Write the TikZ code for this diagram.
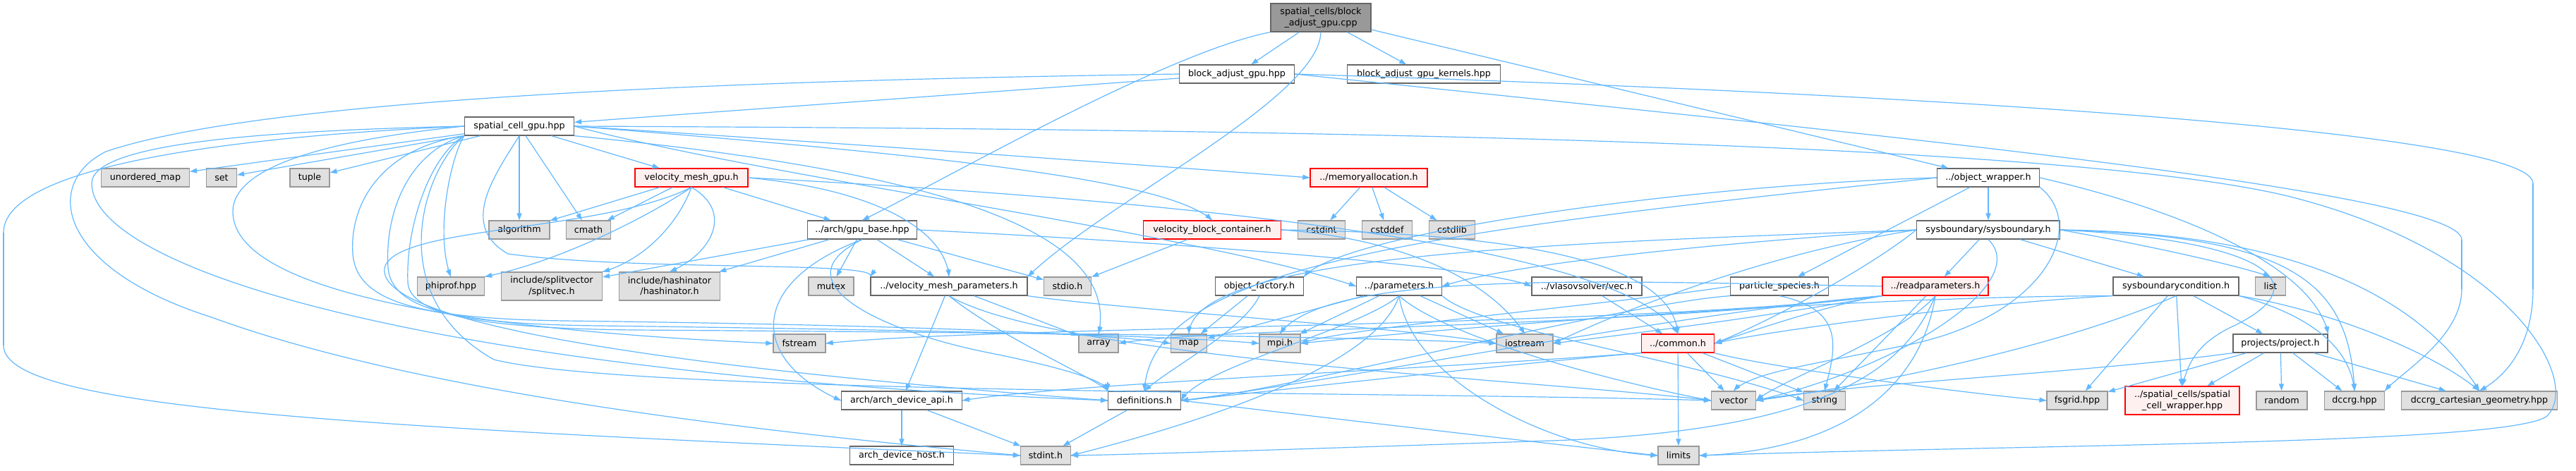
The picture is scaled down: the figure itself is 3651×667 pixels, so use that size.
\documentclass[tikz,border=0pt]{standalone}
\usepackage{fontspec}
\setmainfont{DejaVu Sans}
\usetikzlibrary{arrows.meta}

\definecolor{edgeblue}{HTML}{63B8FF}
\definecolor{sysfill}{HTML}{E0E0E0}
\definecolor{sysdraw}{HTML}{999999}
\definecolor{filedraw}{HTML}{666666}
\definecolor{truncfill}{HTML}{FFF0F0}

\begin{document}
\begin{tikzpicture}[x=1pt, y=-1pt,
  every node/.style={font=\fontsize{12.7}{15.5}\selectfont, inner xsep=4pt, inner ysep=2pt, minimum height=26pt, line width=1.2pt, align=center},
  sysnode/.style={draw=sysdraw, fill=sysfill},
  filenode/.style={draw=filedraw, fill=white},
  trunc/.style={draw=red, fill=truncfill},
  root/.style={draw=filedraw, fill=sysdraw, minimum height=40pt},
  wire/.style={draw=edgeblue, line width=1.2pt},
  incl/.style={wire, -{Triangle[length=10pt,width=7pt]}}]
\useasboundingbox (0,0) rectangle (3651,667);
%files
\node[root, minimum width=142pt] (cpp) at (1872,25) {spatial\_cells/block\\\_adjust\_gpu.cpp};
\node[filenode, minimum width=163pt] (bagh) at (1753,105) {block\_adjust\_gpu.hpp};
\node[filenode, minimum width=217pt] (bagk) at (2018,105) {block\_adjust\_gpu\_kernels.hpp};
\node[filenode, minimum width=155pt] (scg) at (736,179) {spatial\_cell\_gpu.hpp};
\node[sysnode, minimum width=125pt] (umap) at (206,252) {unordered\_map};
\node[sysnode, minimum width=43pt] (sset) at (314,252) {set};
\node[sysnode, minimum width=56pt] (tuple) at (439,252) {tuple};
\node[trunc, minimum width=160pt] (vmg) at (980,252) {velocity\_mesh\_gpu.h};
\node[trunc, minimum width=166pt] (memalloc) at (1940,252) {../memoryallocation.h};
\node[filenode, minimum width=145pt] (objw) at (2818,252) {../object\_wrapper.h};
\node[sysnode, minimum width=86pt] (algorithm) at (736,326) {algorithm};
\node[sysnode, minimum width=63pt] (cmath) at (834,326) {cmath};
\node[filenode, minimum width=155pt] (gpubase) at (1222,326) {../arch/gpu\_base.hpp};
\node[trunc, minimum width=195pt] (vbc) at (1718,326) {velocity\_block\_container.h};
\node[sysnode, minimum width=67pt] (cstdint) at (1873,326) {cstdint};
\node[sysnode, minimum width=71pt] (cstddef) at (1966,326) {cstddef};
\node[sysnode, minimum width=65pt] (cstdlib) at (2058,326) {cstdlib};
\node[filenode, minimum width=203pt] (sysb) at (2818,326) {sysboundary/sysboundary.h};
\node[sysnode, minimum width=95pt] (phiprof) at (639,406) {phiprof.hpp};
\node[sysnode, minimum width=143pt, minimum height=40pt] (splitvec) at (782,406) {include/splitvector\\/splitvec.h};
\node[sysnode, minimum width=143pt, minimum height=40pt] (hashinator) at (949,406) {include/hashinator\\/hashinator.h};
\node[sysnode, minimum width=64pt] (mutex) at (1178,406) {mutex};
\node[filenode, minimum width=222pt] (vmp) at (1345,406) {../velocity\_mesh\_parameters.h};
\node[sysnode, minimum width=67pt] (stdio) at (1513,406) {stdio.h};
\node[filenode, minimum width=125pt] (objf) at (1785,406) {object\_factory.h};
\node[filenode, minimum width=121pt] (params) at (1983,406) {../parameters.h};
\node[filenode, minimum width=156pt] (vec) at (2249,406) {../vlasovsolver/vec.h};
\node[filenode, minimum width=139pt] (pspec) at (2522,406) {particle\_species.h};
\node[trunc, minimum width=150pt] (readp) at (2743,406) {../readparameters.h};
\node[filenode, minimum width=178pt] (sbc) at (3084,406) {sysboundarycondition.h};
\node[sysnode, minimum width=43pt] (slist) at (3218,406) {list};
\node[sysnode, minimum width=74pt] (fstream) at (1133,487) {fstream};
\node[sysnode, minimum width=56pt] (sarray) at (1557,487) {array};
\node[sysnode, minimum width=51pt] (smap) at (1685,487) {map};
\node[sysnode, minimum width=58pt] (mpi) at (1814,487) {mpi.h};
\node[sysnode, minimum width=80pt] (iostream) at (2161,487) {iostream};
\node[trunc, minimum width=103pt] (common) at (2378,487) {../common.h};
\node[filenode, minimum width=134pt] (project) at (3232,487) {projects/project.h};
\node[filenode, minimum width=171pt] (adapi) at (1278,568) {arch/arch\_device\_api.h};
\node[filenode, minimum width=103pt] (defs) at (1622,568) {definitions.h};
\node[sysnode, minimum width=63pt] (svector) at (2457,568) {vector};
\node[sysnode, minimum width=59pt] (sstring) at (2586,568) {string};
\node[sysnode, minimum width=86pt] (fsgrid) at (2944,568) {fsgrid.hpp};
\node[trunc, minimum width=162pt, minimum height=40pt] (scw) at (3093,568) {../spatial\_cells/spatial\\\_cell\_wrapper.hpp};
\node[sysnode, minimum width=72pt] (srandom) at (3234,568) {random};
\node[sysnode, minimum width=85pt] (dccrg) at (3337,568) {dccrg.hpp};
\node[sysnode, minimum width=221pt] (dccrgcg) at (3514,568) {dccrg\_cartesian\_geometry.hpp};
\node[filenode, minimum width=147pt] (adhost) at (1278,646) {arch\_device\_host.h};
\node[sysnode, minimum width=71pt] (stdint) at (1482,646) {stdint.h};
\node[sysnode, minimum width=58pt] (limits) at (2379,646) {limits};
%bends of the long includes
\coordinate (bd1) at (3489,340);
\coordinate (bd2) at (3489,410);
\coordinate (bg1) at (3590,260);
\coordinate (bg2) at (3590,410);
\coordinate (bs1) at (150,215);
\coordinate (bs2) at (300,450);
\coordinate (sv1) at (720,360);
\coordinate (sf1) at (330,300);
\coordinate (sd1) at (130,260);
\coordinate (ss1) at (5,330);
\coordinate (ss2) at (5,490);
\coordinate (sm1) at (500,360);
\coordinate (sm2) at (800,455);
\coordinate (sp1) at (550,380);
\coordinate (sp2) at (850,462);
\coordinate (si1) at (578,400);
\coordinate (si2) at (900,468);
\coordinate (sx1) at (700,510);
\coordinate (sl1) at (3250,280);
\coordinate (sl2) at (3610,590);
\coordinate (vd1) at (545,380);
\coordinate (gd1) at (1400,500);
\coordinate (ov1) at (2700,490);
\coordinate (sw1) at (3160,465);
\coordinate (rs1) at (2200,625);
%straight includes
\draw[incl] (cpp) -- (bagh);
\draw[incl] (cpp) -- (bagk);
\draw[incl] (cpp) -- (objw);
\draw[incl] (bagh) -- (scg);
\draw[incl] (scg) -- (umap);
\draw[incl] (scg) -- (sset);
\draw[incl] (scg) -- (tuple);
\draw[incl] (scg) -- (vmg);
\draw[incl] (scg) -- (algorithm);
\draw[incl] (scg) -- (cmath);
\draw[incl] (vmg) -- (algorithm);
\draw[incl] (vmg) -- (cmath);
\draw[incl] (vmg) -- (gpubase);
\draw[incl] (gpubase) -- (mutex);
\draw[incl] (gpubase) -- (splitvec);
\draw[incl] (gpubase) -- (hashinator);
\draw[incl] (gpubase) -- (vmp);
\draw[incl] (gpubase) -- (stdio);
\draw[incl] (vmp) -- (sarray);
\draw[incl] (vmp) -- (adapi);
\draw[incl] (vbc) -- (stdio);
\draw[incl] (memalloc) -- (cstdint);
\draw[incl] (memalloc) -- (cstddef);
\draw[incl] (memalloc) -- (cstdlib);
\draw[incl] (objw) -- (sysb);
\draw[incl] (objw) -- (pspec);
\draw[incl] (sysb) -- (readp);
\draw[incl] (sysb) -- (sbc);
\draw[incl] (sbc) -- (scw);
\draw[incl] (sbc) -- (fsgrid);
\draw[incl] (sbc) -- (project);
\draw[incl] (project) -- (scw);
\draw[incl] (project) -- (srandom);
\draw[incl] (project) -- (dccrg);
\draw[incl] (project) -- (dccrgcg);
\draw[incl] (project) -- (fsgrid);
\draw[incl] (readp) -- (sstring);
\draw[incl] (params) -- (smap);
\draw[incl] (params) -- (mpi);
\draw[incl] (params) -- (iostream);
\draw[incl] (objf) -- (smap);
\draw[incl] (vec) -- (common);
\draw[incl] (common) -- (limits);
\draw[incl] (common) -- (svector);
\draw[incl] (common) -- (sstring);
\draw[incl] (defs) -- (stdint);
\draw[incl] (adapi) -- (adhost);
\draw[incl] (adapi) -- (stdint);
%curved includes: one piece per draw, the tip on its own
\draw[wire] (cpp.south west) .. controls (1650,75) and (1330,260) .. (gpubase.north);
\draw[incl] ([shift={(10.8,-5.3)}]gpubase.north) -- (gpubase.north);
\draw[wire] (cpp.south) .. controls (1870,140) and (1560,290) .. (vmp.north east);
\draw[incl] ([shift={(8.5,-8.4)}]vmp.north east) -- (vmp.north east);
\draw[wire] (bagh.east) .. controls (2600,185) and (3489,270) .. (bd1);
\draw[wire] (bd1) -- (bd2);
\draw[wire] (bd2) .. controls (3489,480) and (3400,530) .. (dccrg.north east);
\draw[incl] ([shift={(7.6,-9.3)}]dccrg.north east) -- (dccrg.north east);
\draw[wire] (bagh.east) .. controls (2800,135) and (3590,190) .. (bg1);
\draw[wire] (bg1) -- (bg2);
\draw[wire] (bg2) .. controls (3590,480) and (3560,530) .. (dccrgcg.north);
\draw[incl] ([shift={(10.5,-5.7)}]dccrgcg.north) -- (dccrgcg.north);
\draw[wire] (bagh.west) .. controls (1200,112) and (400,130) .. (bs1);
\draw[wire] (bs1) .. controls (60,260) and (80,380) .. (bs2);
\draw[wire] (bs2) .. controls (600,560) and (1100,615) .. (stdint.west);
\draw[incl] ([shift={(-12,-1.1)}]stdint.west) -- (stdint.west);
\draw[wire] (scg.south west) .. controls (640,220) and (615,330) .. (phiprof.north);
\draw[incl] ([shift={(-4.3,-11.2)}]phiprof.north) -- (phiprof.north);
\draw[wire] (scg.east) .. controls (1400,225) and (1660,260) .. (vbc.north);
\draw[incl] ([shift={(-8.8,-8.1)}]vbc.north) -- (vbc.north);
\draw[wire] (scg.east) .. controls (1300,210) and (1700,240) .. (memalloc.west);
\draw[incl] ([shift={(-12,-0.9)}]memalloc.west) -- (memalloc.west);
\draw[wire] (scg.south) .. controls (700,250) and (650,320) .. (sv1);
\draw[wire] (sv1) .. controls (900,385) and (1250,370) .. (vmp.north west);
\draw[incl] ([shift={(6.9,-9.9)}]vmp.north west) -- (vmp.north west);
\draw[wire] (scg.south east) .. controls (1300,240) and (1590,320) .. (sarray.north);
\draw[incl] ([shift={(2.5,-11.7)}]sarray.north) -- (sarray.north);
\draw[wire] (scg.east) .. controls (1100,255) and (1700,330) .. (params.west);
\draw[incl] ([shift={(-11.4,-3.9)}]params.west) -- (params.west);
\draw[wire] (scg.west) .. controls (450,200) and (330,240) .. (sf1);
\draw[wire] (sf1) .. controls (330,420) and (700,470) .. (fstream.west);
\draw[incl] ([shift={(-12,-0.5)}]fstream.west) -- (fstream.west);
\draw[wire] (scg.west) .. controls (400,185) and (130,200) .. (sd1);
\draw[wire] (sd1) .. controls (130,380) and (600,530) .. (defs.west);
\draw[incl] ([shift={(-12,-0.5)}]defs.west) -- (defs.west);
\draw[wire] (scg.west) .. controls (300,195) and (5,240) .. (ss1);
\draw[wire] (ss1) -- (ss2);
\draw[wire] (ss2) .. controls (5,580) and (500,605) .. (stdint.west);
\draw[incl] ([shift={(-12,-0.5)}]stdint.west) -- (stdint.west);
\draw[wire] (scg.south west) .. controls (540,210) and (495,290) .. (sm1);
\draw[wire] (sm1) .. controls (505,430) and (600,452) .. (sm2);
\draw[wire] (sm2) .. controls (1200,460) and (1550,470) .. (smap.west);
\draw[incl] ([shift={(-11.9,-1.8)}]smap.west) -- (smap.west);
\draw[wire] (scg.south west) .. controls (580,215) and (545,300) .. (sp1);
\draw[wire] (sp1) .. controls (555,440) and (650,460) .. (sp2);
\draw[wire] (sp2) .. controls (1300,468) and (1650,475) .. (mpi.west);
\draw[incl] ([shift={(-12,-1.1)}]mpi.west) -- (mpi.west);
\draw[wire] (scg.south west) .. controls (610,220) and (575,320) .. (si1);
\draw[wire] (si1) .. controls (580,450) and (700,466) .. (si2);
\draw[wire] (si2) .. controls (1500,472) and (1950,478) .. (iostream.west);
\draw[incl] ([shift={(-12,-0.6)}]iostream.west) -- (iostream.west);
\draw[wire] (scg.south west) .. controls (600,240) and (540,420) .. (sx1);
\draw[wire] (sx1) .. controls (900,560) and (2000,555) .. (svector.west);
\draw[incl] ([shift={(-12,-0.4)}]svector.west) -- (svector.west);
\draw[wire] (scg.east) .. controls (1500,182) and (2900,190) .. (sl1);
\draw[wire] (sl1) .. controls (3560,360) and (3660,540) .. (sl2);
\draw[wire] (sl2) .. controls (3560,630) and (2900,630) .. (limits.east);
\draw[incl] ([shift={(12,-0.4)}]limits.east) -- (limits.east);
\draw[wire] (vmg.south) .. controls (930,300) and (800,370) .. (phiprof.north east);
\draw[incl] ([shift={(11.8,-2.4)}]phiprof.north east) -- (phiprof.north east);
\draw[wire] (vmg.south) .. controls (960,320) and (910,370) .. (splitvec.north east);
\draw[incl] ([shift={(11.5,-3.3)}]splitvec.north east) -- (splitvec.north east);
\draw[wire] (vmg.south) .. controls (1040,300) and (1010,360) .. (hashinator.north);
\draw[incl] ([shift={(11,-4.7)}]hashinator.north) -- (hashinator.north);
\draw[wire] (vmg.east) .. controls (1250,270) and (1340,330) .. (vmp.north);
\draw[incl] ([shift={(-1,-12)}]vmp.north) -- (vmp.north);
\draw[wire] (vmg.south) .. controls (850,330) and (560,320) .. (vd1);
\draw[wire] (vd1) .. controls (530,480) and (1200,540) .. (defs.west);
\draw[incl] ([shift={(-12,-0.9)}]defs.west) -- (defs.west);
\draw[wire] (vmg.east) .. controls (1600,280) and (2300,340) .. (common.north);
\draw[incl] ([shift={(-6,-10.4)}]common.north) -- (common.north);
\draw[wire] (gpubase.south) .. controls (1060,400) and (1060,510) .. (adapi.west);
\draw[incl] ([shift={(-11,-4.8)}]adapi.west) -- (adapi.west);
\draw[wire] (gpubase.south) .. controls (1100,400) and (1250,470) .. (gd1);
\draw[wire] (gd1) .. controls (1500,520) and (1570,540) .. (defs.north west);
\draw[incl] ([shift={(0,-12)}]defs.north west) -- (defs.north west);
\draw[wire] (gpubase.east) .. controls (1600,340) and (2100,375) .. (vec.west);
\draw[incl] ([shift={(-11,-4.8)}]vec.west) -- (vec.west);
\draw[wire] (vmp.south) .. controls (1420,480) and (1560,540) .. (defs.north west);
\draw[incl] ([shift={(-6.9,-9.8)}]defs.north west) -- (defs.north west);
\draw[wire] (vmp.south east) .. controls (1600,440) and (2000,465) .. (iostream.west);
\draw[incl] ([shift={(-11.8,-2.1)}]iostream.west) -- (iostream.west);
\draw[wire] (vmp.south) .. controls (1500,510) and (2200,540) .. (svector.west);
\draw[incl] ([shift={(-11.9,-1.5)}]svector.west) -- (svector.west);
\draw[wire] (vbc.east) .. controls (2100,330) and (2370,360) .. (common.north);
\draw[incl] ([shift={(-0.8,-12)}]common.north) -- (common.north);
\draw[wire] (vbc.east) .. controls (1950,335) and (2100,380) .. (iostream.north);
\draw[incl] ([shift={(-6.5,-10)}]iostream.north) -- (iostream.north);
\draw[wire] (objw.west) .. controls (2400,262) and (1900,330) .. (objf.north east);
\draw[incl] ([shift={(7.7,-9.2)}]objf.north east) -- (objf.north east);
\draw[wire] (objw.west) .. controls (2000,330) and (1630,380) .. (defs.north);
\draw[incl] ([shift={(0.5,-12)}]defs.north) -- (defs.north);
\draw[wire] (objw.east) .. controls (3100,300) and (3280,380) .. (project.north east);
\draw[incl] ([shift={(-2.4,-11.8)}]project.north east) -- (project.north east);
\draw[wire] (objw.south east) .. controls (2960,320) and (2900,450) .. (ov1);
\draw[wire] (ov1) .. controls (2550,520) and (2480,530) .. (svector.north);
\draw[incl] ([shift={(8.1,-8.8)}]svector.north) -- (svector.north);
\draw[wire] (sysb.east) .. controls (3000,340) and (3150,370) .. (slist.north);
\draw[incl] ([shift={(-11.4,-3.8)}]slist.north) -- (slist.north);
\draw[wire] (sysb.west) .. controls (2500,340) and (2150,370) .. (params.east);
\draw[incl] ([shift={(11.4,-3.9)}]params.east) -- (params.east);
\draw[wire] (sysb.west) .. controls (2200,345) and (1690,360) .. (smap.north);
\draw[incl] ([shift={(0.5,-12)}]smap.north) -- (smap.north);
\draw[wire] (sysb.west) .. controls (2650,380) and (2500,460) .. (common.east);
\draw[incl] ([shift={(11.2,-4.3)}]common.east) -- (common.east);
\draw[wire] (sysb.west) .. controls (2500,360) and (2300,440) .. (iostream.east);
\draw[incl] ([shift={(10.8,-5.1)}]iostream.east) -- (iostream.east);
\draw[wire] (sysb.south) .. controls (2880,400) and (2700,520) .. (svector.east);
\draw[incl] ([shift={(11.7,-2.7)}]svector.east) -- (svector.east);
\draw[wire] (sysb.east) .. controls (3250,335) and (3330,400) .. (dccrg.north);
\draw[incl] ([shift={(-0.5,-12)}]dccrg.north) -- (dccrg.north);
\draw[wire] (sysb.east) .. controls (3300,330) and (3450,450) .. (dccrgcg.north);
\draw[incl] ([shift={(-6.2,-10.2)}]dccrgcg.north) -- (dccrgcg.north);
\draw[wire] (sysb.east) .. controls (3200,340) and (3300,400) .. (sw1);
\draw[wire] (sw1) .. controls (3110,490) and (3100,520) .. (scw.north);
\draw[incl] ([shift={(2.9,-11.6)}]scw.north) -- (scw.north);
\draw[wire] (sbc.south east) .. controls (3250,440) and (3330,480) .. (dccrg.north);
\draw[incl] ([shift={(-1.1,-11.9)}]dccrg.north) -- (dccrg.north);
\draw[wire] (sbc.south east) .. controls (3300,440) and (3450,500) .. (dccrgcg.north);
\draw[incl] ([shift={(-9.1,-7.9)}]dccrgcg.north) -- (dccrgcg.north);
\draw[wire] (sbc.south) .. controls (2950,480) and (2700,540) .. (svector.east);
\draw[incl] ([shift={(11.9,-1.6)}]svector.east) -- (svector.east);
\draw[wire] (sbc.south west) .. controls (2800,430) and (2500,470) .. (common.east);
\draw[incl] ([shift={(11.7,-2.8)}]common.east) -- (common.east);
\draw[wire] (sbc.south west) .. controls (2600,420) and (2000,470) .. (mpi.east);
\draw[incl] ([shift={(11.9,-1.3)}]mpi.east) -- (mpi.east);
\draw[wire] (project.south west) .. controls (2950,530) and (2600,545) .. (svector.east);
\draw[incl] ([shift={(11.8,-2.4)}]svector.east) -- (svector.east);
\draw[wire] (pspec.south) .. controls (2620,440) and (2600,500) .. (sstring.north);
\draw[incl] ([shift={(2.9,-11.6)}]sstring.north) -- (sstring.north);
\draw[wire] (pspec.south west) .. controls (2300,430) and (1800,560) .. (defs.east);
\draw[incl] ([shift={(12,-0.8)}]defs.east) -- (defs.east);
\draw[wire] (pspec.west) .. controls (2300,430) and (1900,465) .. (mpi.east);
\draw[incl] ([shift={(11.2,-4.3)}]mpi.east) -- (mpi.east);
\draw[wire] (readp.south) .. controls (2690,480) and (2520,540) .. (svector.east);
\draw[incl] ([shift={(9,-8)}]svector.east) -- (svector.east);
\draw[wire] (readp.south) .. controls (2720,560) and (2600,640) .. (limits.east);
\draw[incl] ([shift={(12,-0.4)}]limits.east) -- (limits.east);
\draw[wire] (readp.south) .. controls (2700,520) and (2600,610) .. (rs1);
\draw[wire] (rs1) .. controls (1900,635) and (1600,645) .. (stdint.east);
\draw[incl] ([shift={(12,-0.1)}]stdint.east) -- (stdint.east);
\draw[wire] (readp.south west) .. controls (2600,430) and (2480,470) .. (common.east);
\draw[incl] ([shift={(11.4,-3.8)}]common.east) -- (common.east);
\draw[wire] (readp.west) .. controls (2300,400) and (1880,380) .. (mpi.north);
\draw[incl] ([shift={(6.9,-9.8)}]mpi.north) -- (mpi.north);
\draw[wire] (readp.south west) .. controls (2400,440) and (1900,540) .. (defs.east);
\draw[incl] ([shift={(11.9,-1.5)}]defs.east) -- (defs.east);
\draw[wire] (readp.south west) .. controls (2300,465) and (1700,465) .. (sarray.east);
\draw[incl] ([shift={(11.8,-2.3)}]sarray.east) -- (sarray.east);
\draw[wire] (readp.south west) .. controls (2300,465) and (1400,462) .. (fstream.east);
\draw[incl] ([shift={(11.9,-1.3)}]fstream.east) -- (fstream.east);
\draw[wire] (readp.south west) .. controls (2500,450) and (2300,475) .. (iostream.east);
\draw[incl] ([shift={(11.9,-1.4)}]iostream.east) -- (iostream.east);
\draw[wire] (params.south) .. controls (1920,470) and (1700,520) .. (defs.east);
\draw[incl] ([shift={(5.8,-10.5)}]defs.east) -- (defs.east);
\draw[wire] (params.south) .. controls (1950,520) and (1700,600) .. (stdint.east);
\draw[incl] ([shift={(11.6,-2.9)}]stdint.east) -- (stdint.east);
\draw[wire] (params.south) .. controls (2000,540) and (2200,640) .. (limits.west);
\draw[incl] ([shift={(-12,-0.5)}]limits.west) -- (limits.west);
\draw[wire] (params.south) .. controls (2050,480) and (2300,545) .. (svector.west);
\draw[incl] ([shift={(-11.8,-2.2)}]svector.west) -- (svector.west);
\draw[wire] (params.south east) .. controls (2100,470) and (2400,510) .. (sstring.west);
\draw[incl] ([shift={(-11.3,-4.2)}]sstring.west) -- (sstring.west);
\draw[wire] (objf.south) .. controls (1760,470) and (1660,520) .. (defs.north);
\draw[incl] ([shift={(8.8,-8.1)}]defs.north) -- (defs.north);
\draw[wire] (common.south east) .. controls (2500,520) and (2800,560) .. (fsgrid.west);
\draw[incl] ([shift={(-12,-1)}]fsgrid.west) -- (fsgrid.west);
\draw[wire] (common.south west) .. controls (2100,520) and (1800,555) .. (defs.east);
\draw[incl] ([shift={(11.9,-1.2)}]defs.east) -- (defs.east);
\draw[wire] (common.south west) .. controls (2000,525) and (1500,545) .. (adapi.east);
\draw[incl] ([shift={(11.8,-2)}]adapi.east) -- (adapi.east);
\draw[wire] (defs.east) .. controls (1900,595) and (2200,630) .. (limits.west);
\draw[incl] ([shift={(-11.9,-1.3)}]limits.west) -- (limits.west);
\end{tikzpicture}
\end{document}
